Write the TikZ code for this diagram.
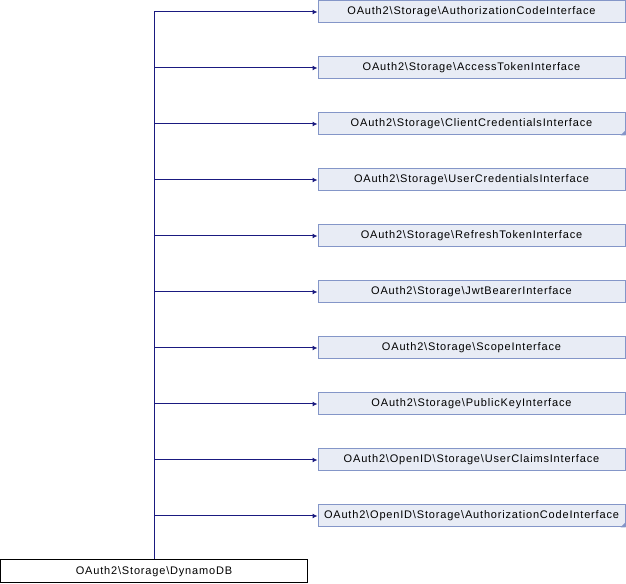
\documentclass[tikz,border=0pt]{standalone}
\usepackage{fontspec}
\newfontfamily\diafont[LetterSpace=7.5]{Liberation Sans}
\usetikzlibrary{arrows.meta}
\definecolor{edgeblue}{HTML}{1A1A80}
\definecolor{ifill}{HTML}{E8ECF5}
\definecolor{iline}{HTML}{8496C8}
\tikzset{
  iface/.style={draw=iline, fill=ifill, line width=0.75pt, minimum width=230.25pt, minimum height=16.5pt, inner sep=0pt, font=\diafont\fontsize{8.25}{10}\selectfont},
  cls/.style={draw=black, fill=white, line width=0.75pt, minimum width=230.25pt, minimum height=17.25pt, inner sep=0pt, font=\diafont\fontsize{8.25}{10}\selectfont},
  inherit/.style={draw=edgeblue, line width=0.75pt, -{Latex[length=3.75pt,width=3.75pt]}},
}
\begin{document}
\begin{tikzpicture}[x=0.75pt, y=-0.75pt]
\useasboundingbox (0,0) rectangle (626,584);
\node[cls] (db) at (154,571.5) {OAuth2\textbackslash Storage\textbackslash DynamoDB};
\foreach \n/\t in {0/Storage\textbackslash AuthorizationCodeInterface,
                   1/Storage\textbackslash AccessTokenInterface,
                   2/Storage\textbackslash ClientCredentialsInterface,
                   3/Storage\textbackslash UserCredentialsInterface,
                   4/Storage\textbackslash RefreshTokenInterface,
                   5/Storage\textbackslash JwtBearerInterface,
                   6/Storage\textbackslash ScopeInterface,
                   7/Storage\textbackslash PublicKeyInterface,
                   8/OpenID\textbackslash Storage\textbackslash UserClaimsInterface,
                   9/OpenID\textbackslash Storage\textbackslash AuthorizationCodeInterface}
  \node[iface] (i\n) at (471.5,{12+56*\n}) {OAuth2\textbackslash \t};
% folded corners
\foreach \n in {2,9}
  \fill[iline] (i\n.south east) -- ++(-5,0) -- ++(5,-5) -- cycle;
% trunk and arrows
\draw[edgeblue, line width=0.75pt] (db.north) -- (db.north |- i0.west);
\foreach \n in {0,...,9}
  \draw[inherit] (db.north |- i\n.west) -- (i\n.west);
\end{tikzpicture}
\end{document}
